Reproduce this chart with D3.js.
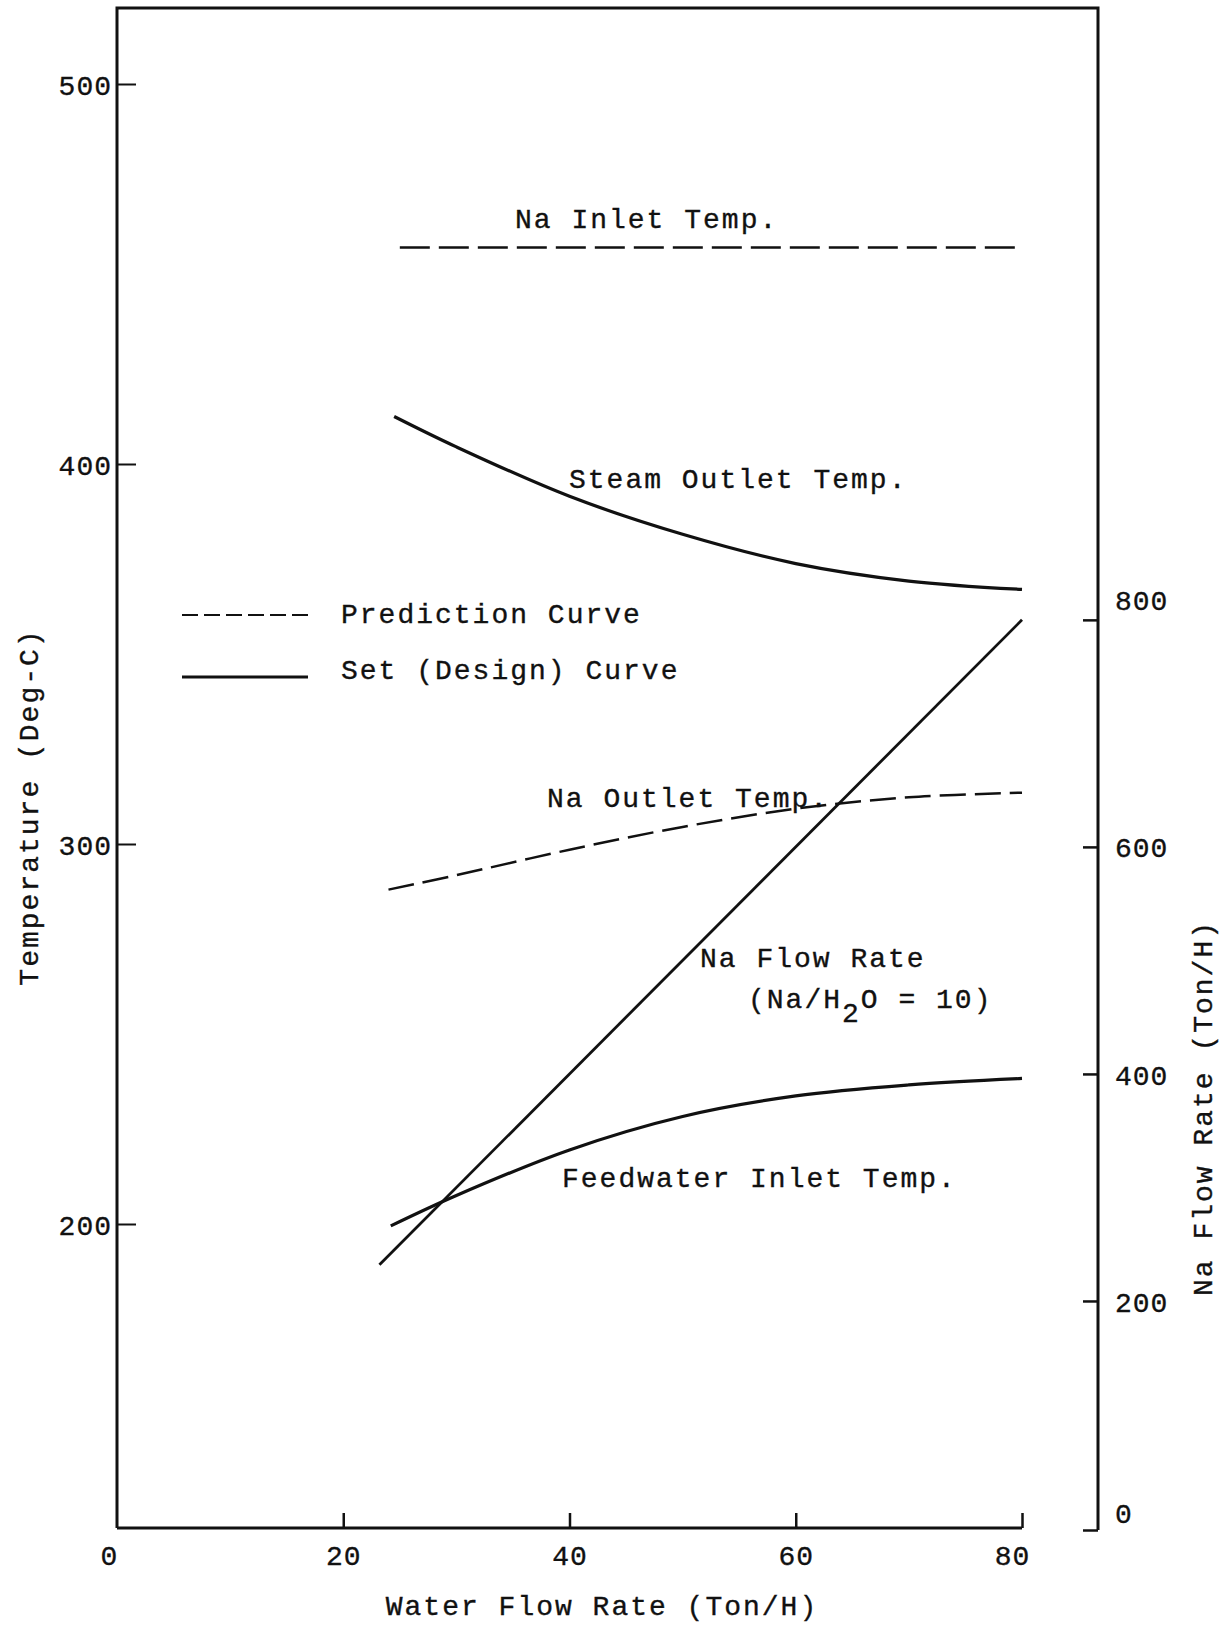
<!DOCTYPE html>
<html>
<head>
<meta charset="utf-8">
<script src="https://cdn.jsdelivr.net/npm/d3@7"></script>
<style>
  html, body { margin: 0; padding: 0; background: #fff; }
  svg { display: block; }
  text { font-family: "Liberation Mono", "DejaVu Sans Mono", monospace; fill: #111; stroke: #111; stroke-width: 0.35px; }
</style>
</head>
<body>
<svg id="chart" width="1222" height="1628"></svg>
<script>
// ---- Data ----
const xTicks = [0, 20, 40, 60, 80];
const leftTicks = [200, 300, 400, 500];
const rightTicks = [0, 200, 400, 600, 800];

const naInletX = [25, 80];
const naInletT = [457, 457];

const steamOutX = [24.5, 30, 40, 50, 60, 70, 80];
const steamOutT = [412.5, 404.5, 391.5, 381.5, 373.8, 369.2, 367];

const naOutletX = [24, 30, 40, 50, 60, 70, 80];
const naOutletT = [288, 291.8, 298.5, 304.5, 309.3, 312.3, 313.5];

const feedInX = [24.2, 30, 40, 50, 60, 70, 80];
const feedInT = [199.5, 207.5, 219.5, 228.3, 233.7, 236.6, 238.3];

const naFlowX = [23.2, 80];
const naFlowV = [232, 800];

// ---- Layout ----
const svg = d3.select("#chart");
const X0 = 117, X80 = 1022, RIGHT = 1098, TOP = 8, BOTTOM = 1528;

const x = d3.scaleLinear().domain([0, 80]).range([X0, X80]);
const yL = d3.scaleLinear().domain([120, 520]).range([BOTTOM, TOP]);
const yR = d3.scaleLinear().domain([0, 1339]).range([BOTTOM, TOP]);

const ink = "#111";

// Frame: left axis, top border, right axis
svg.append("path")
  .attr("d", `M${X0},${BOTTOM} L${X0},${TOP} L${RIGHT},${TOP} L${RIGHT},${BOTTOM + 2}`)
  .attr("fill", "none").attr("stroke", ink).attr("stroke-width", 3);

// Bottom x axis (from 0 to 80)
const xAxis = d3.axisBottom(x).tickValues(xTicks).tickSize(-15).tickPadding(0).tickFormat(d3.format("d"));
const gx = svg.append("g").attr("transform", `translate(0,${BOTTOM})`).call(xAxis);
gx.select(".domain").attr("d", `M${X0},0H${X80}`).attr("stroke", ink).attr("stroke-width", 3);
gx.selectAll(".tick line").attr("stroke", ink).attr("stroke-width", 2.5)
  .filter(d => d === 0).remove();
gx.selectAll(".tick text")
  .attr("y", 37).attr("dy", 0)
  .attr("font-size", 28).attr("letter-spacing", 1)
  .attr("text-anchor", "middle")
  .attr("dx", d => (d === 0 ? -8 : d === 80 ? -10 : 0))
  .attr("fill", ink)
  .style("font-family", "'Liberation Mono', monospace");

// Left axis
const leftAxis = d3.axisLeft(yL).tickValues(leftTicks).tickSize(-19).tickPadding(0).tickFormat(d3.format("d"));
const gl = svg.append("g").attr("transform", `translate(${X0},0)`).call(leftAxis);
gl.select(".domain").remove();
gl.selectAll(".tick line").attr("stroke", ink).attr("stroke-width", 2);
gl.selectAll(".tick text")
  .attr("x", -5).attr("dy", "0.36em")
  .attr("font-size", 28).attr("letter-spacing", 1)
  .attr("text-anchor", "end").attr("fill", ink)
  .style("font-family", "'Liberation Mono', monospace");

// Right axis
const rightAxis = d3.axisRight(yR).tickValues(rightTicks).tickSize(-15).tickPadding(0).tickFormat(d3.format("d"));
const gr = svg.append("g").attr("transform", `translate(${RIGHT},0)`).call(rightAxis);
gr.select(".domain").remove();
gr.selectAll(".tick line").attr("stroke", ink).attr("stroke-width", 2.5)
  .attr("transform", d => d === 0 ? "translate(0,2)" : null);
gr.selectAll(".tick text")
  .attr("x", 17).attr("dy", d => (d === 0 ? "-0.2em" : d === 800 ? "-0.38em" : "0.36em"))
  .attr("font-size", 28).attr("letter-spacing", 1)
  .attr("text-anchor", "start").attr("fill", ink)
  .style("font-family", "'Liberation Mono', monospace");

// ---- Curves ----
const lineL = d3.line().x(d => x(d[0])).y(d => yL(d[1])).curve(d3.curveCatmullRom.alpha(0.5));
const lineR = d3.line().x(d => x(d[0])).y(d => yR(d[1]));
const zip = (a, b) => a.map((v, i) => [v, b[i]]);

svg.append("path").datum(zip(naInletX, naInletT)).attr("d", lineL)
  .attr("fill", "none").attr("stroke", ink).attr("stroke-width", 2.5).attr("stroke-dasharray", "30,9");

svg.append("path").datum(zip(steamOutX, steamOutT)).attr("d", lineL)
  .attr("fill", "none").attr("stroke", ink).attr("stroke-width", 3.2);

svg.append("path").datum(zip(naOutletX, naOutletT)).attr("d", lineL)
  .attr("fill", "none").attr("stroke", ink).attr("stroke-width", 2.5).attr("stroke-dasharray", "26,9");

svg.append("path").datum(zip(feedInX, feedInT)).attr("d", lineL)
  .attr("fill", "none").attr("stroke", ink).attr("stroke-width", 3.2);

svg.append("path").datum(zip(naFlowX, naFlowV)).attr("d", lineR)
  .attr("fill", "none").attr("stroke", ink).attr("stroke-width", 2.8);

// ---- Legend ----
svg.append("line").attr("x1", 182).attr("x2", 308).attr("y1", 615).attr("y2", 615)
  .attr("stroke", ink).attr("stroke-width", 2.2).attr("stroke-dasharray", "16,6");
svg.append("line").attr("x1", 182).attr("x2", 308).attr("y1", 677).attr("y2", 677)
  .attr("stroke", ink).attr("stroke-width", 3.2);

// ---- Text labels ----
function label(txt, xPos, yPos) {
  return svg.append("text").attr("x", xPos).attr("y", yPos)
    .attr("font-size", 28).attr("letter-spacing", 2).text(txt);
}
label("Prediction Curve", 341, 623);
label("Set (Design) Curve", 341, 679);
label("Na Inlet Temp.", 515, 228);
label("Steam Outlet Temp.", 569, 488);
label("Na Outlet Temp.", 547, 807);
label("Na Flow Rate", 700, 967);
label("Feedwater Inlet Temp.", 562, 1187);

const ratio = svg.append("text").attr("x", 748).attr("y", 1008)
  .attr("font-size", 28).attr("letter-spacing", 2);
ratio.append("tspan").text("(Na/H");
ratio.append("tspan").attr("dy", 14).text("2");
ratio.append("tspan").attr("dy", -14).text("O = 10)");

// Axis titles
svg.append("text").attr("x", 602).attr("y", 1615).attr("text-anchor", "middle")
  .attr("font-size", 28).attr("letter-spacing", 2).text("Water Flow Rate (Ton/H)");
svg.append("text").attr("transform", "translate(38,807) rotate(-90)").attr("text-anchor", "middle")
  .attr("font-size", 28).attr("letter-spacing", 2).text("Temperature (Deg-C)");
svg.append("text").attr("transform", "translate(1212,1108) rotate(-90)").attr("text-anchor", "middle")
  .attr("font-size", 28).attr("letter-spacing", 2).text("Na Flow Rate (Ton/H)");
</script>
</body>
</html>
